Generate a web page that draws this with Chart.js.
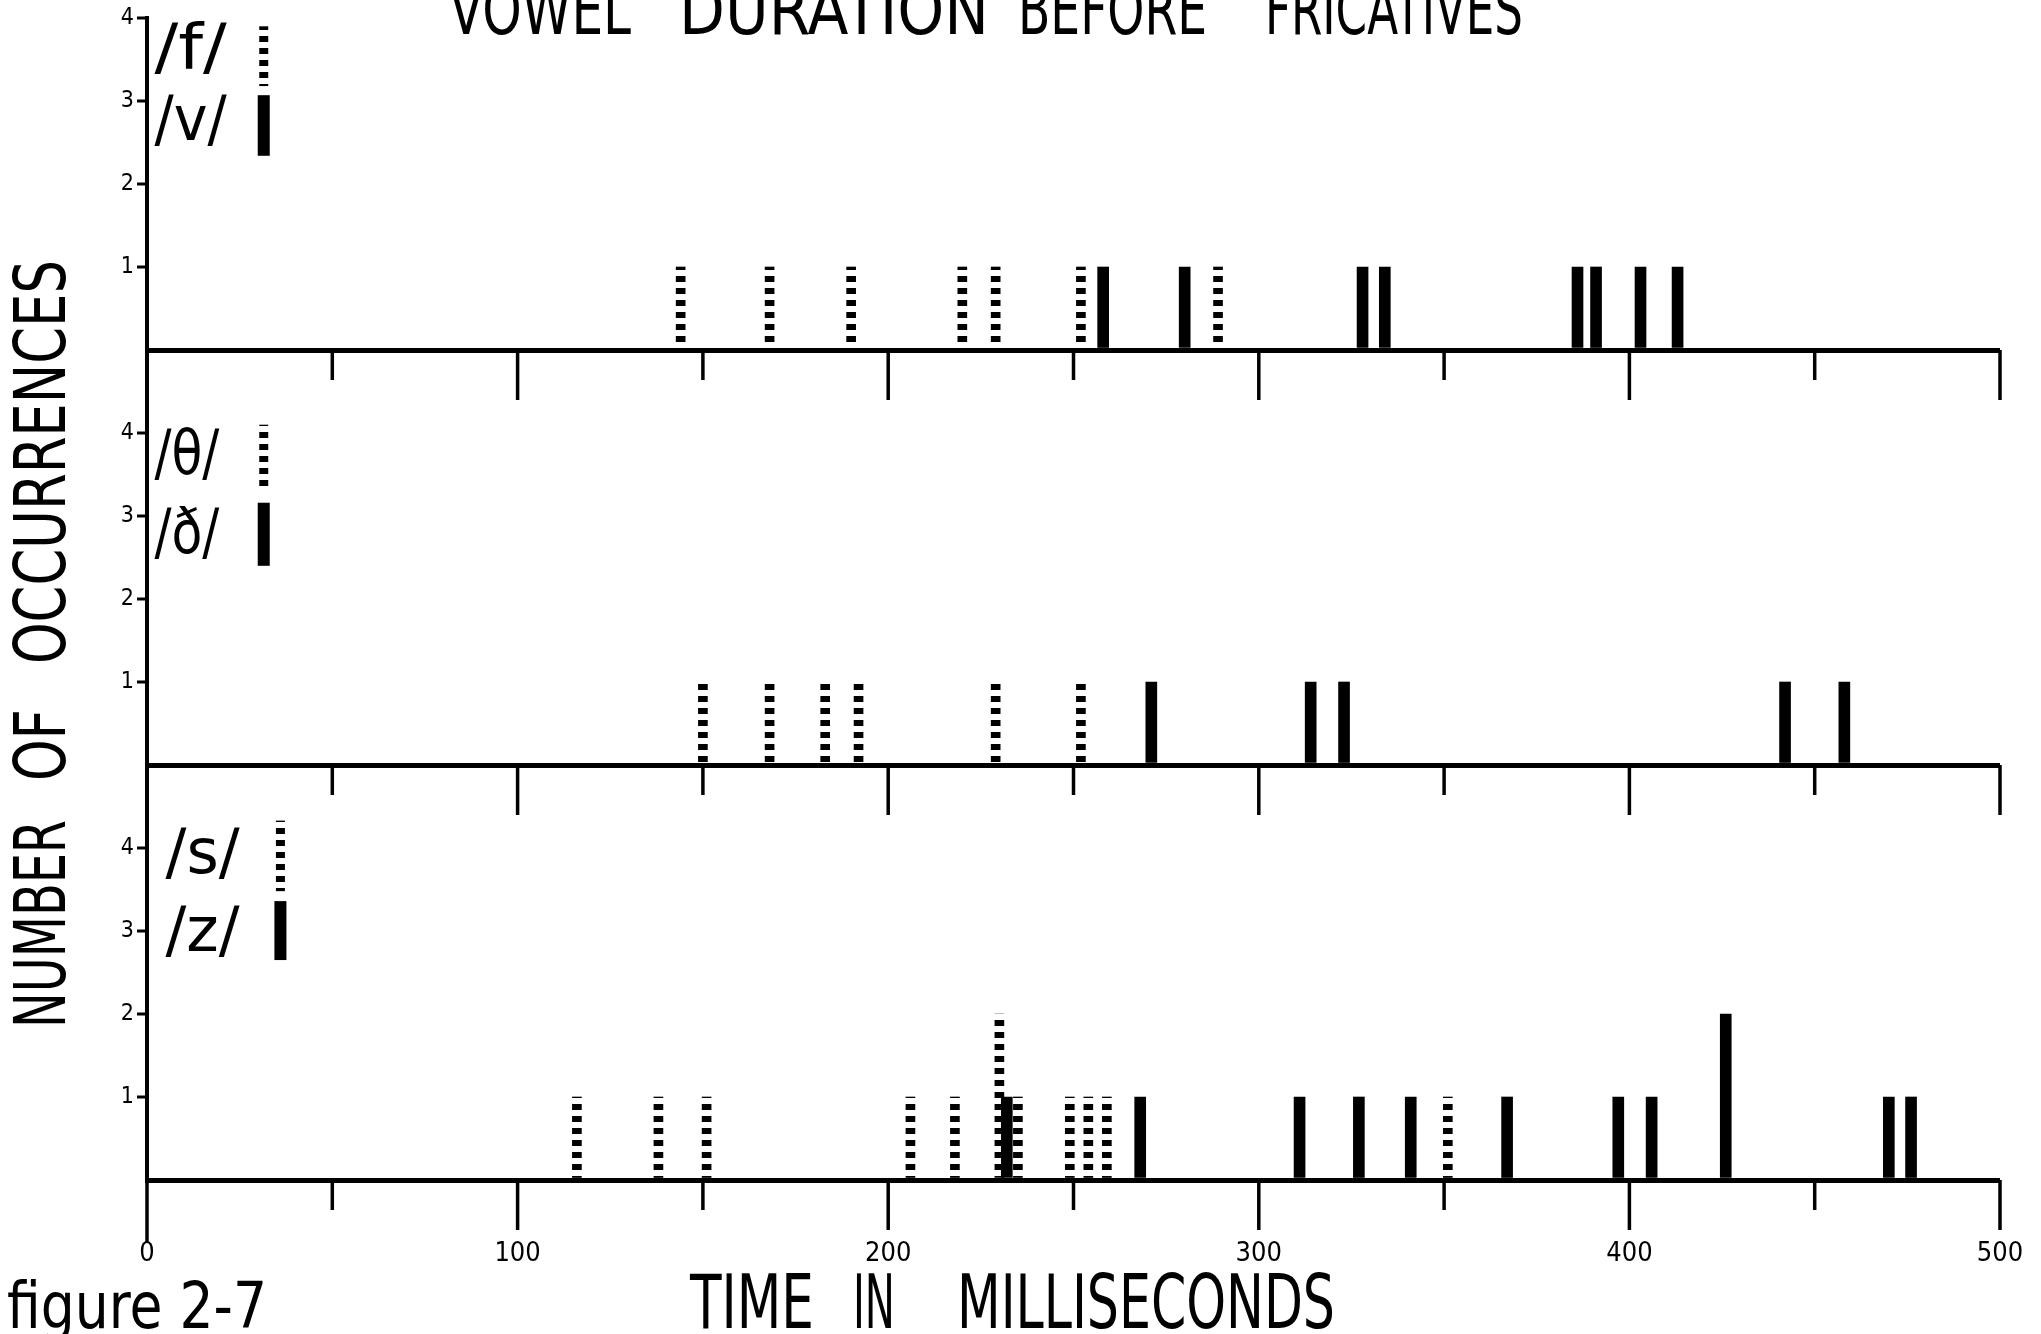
<!DOCTYPE html>
<html>
<head>
<meta charset="utf-8">
<title>Vowel duration before fricatives</title>
<script src="https://cdn.jsdelivr.net/npm/chart.js@4.4.1/dist/chart.umd.min.js"></script>
<style>
  html, body { margin: 0; padding: 0; background: #fff; overflow: hidden; }
  canvas { display: block; }
</style>
</head>
<body>
<canvas id="fig" width="2041" height="1334"></canvas>
<script>
// vowel durations (ms), with the number of tokens at each one
const fDurations = [144, 168, 190, 220, 229, 252, 289];
const fCounts = [1, 1, 1, 1, 1, 1, 1];
const vDurations = [258, 280, 328, 334, 386, 391, 403, 413];
const vCounts = [1, 1, 1, 1, 1, 1, 1, 1];

const thDurations = [150, 168, 183, 192, 229, 252];
const thCounts = [1, 1, 1, 1, 1, 1];
const dhDurations = [271, 314, 323, 442, 458];
const dhCounts = [1, 1, 1, 1, 1];

const sDurations = [116, 138, 151, 206, 218, 230, 235, 249, 254, 259, 351];
const sCounts = [1, 1, 1, 1, 1, 2, 1, 1, 1, 1, 1];
const zDurations = [232, 268, 311, 327, 341, 367, 397, 406, 426, 470, 476];
const zCounts = [1, 1, 1, 1, 1, 1, 1, 1, 2, 1, 1];

const timeTicks = [0, 100, 200, 300, 400, 500];
const countTicks = [1, 2, 3, 4];

const FONT = "'DejaVu Sans Condensed', 'Liberation Sans Narrow', 'DejaVu Sans', sans-serif";

const canvas = document.getElementById('fig');
const ctx = canvas.getContext('2d');

// dotted fill used for the voiceless bars
const tile = document.createElement('canvas');
tile.width = 1;
tile.height = 12;
const tctx = tile.getContext('2d');
tctx.fillStyle = '#000';
tctx.fillRect(0, 0, 1, 6);
const dots = ctx.createPattern(tile, 'repeat');

function pts(durations, counts) {
  return durations.map((d, i) => ({ x: d, y: counts[i] }));
}

function barSet(label, durations, counts, axis, dotted) {
  return {
    label: label,
    data: pts(durations, counts),
    xAxisID: 'x',
    yAxisID: axis,
    backgroundColor: dotted ? dots : '#000',
    borderWidth: 0,
    barThickness: dotted ? 9 : 11,
    grouped: false
  };
}

function countAxis(max, order) {
  return {
    type: 'linear',
    position: 'left',
    stack: 'panels',
    stackWeight: max,
    weight: order,
    min: 0,
    max: max,
    afterBuildTicks: s => { s.ticks = [0].concat(countTicks).map(v => ({ value: v })); },
    afterFit: s => { s.width = 147; },
    border: { display: true, color: '#000', width: 4 },
    grid: {
      drawOnChartArea: true,
      drawTicks: true,
      tickLength: 10,
      color: c => (c.tick && c.tick.value === 0 ? '#000' : 'rgba(0,0,0,0)'),
      lineWidth: c => (c.tick && c.tick.value === 0 ? 5 : 0),
      tickColor: c => (c.tick && c.tick.value === 0 ? 'rgba(0,0,0,0)' : '#000'),
      tickWidth: 3
    },
    ticks: {
      color: '#000',
      padding: 3,
      font: { family: FONT, size: 23 },
      callback: v => (v === 0 ? '' : v)
    }
  };
}

// squeeze a word into a given width, like the condensed lettering of the original
function fitText(c, text, x0, x1, y, size) {
  c.font = size + 'px ' + FONT;
  const w = c.measureText(text).width;
  c.save();
  c.translate(x0, y);
  c.scale((x1 - x0) / w, 1);
  c.textAlign = 'left';
  c.fillText(text, 0, 0);
  c.restore();
}

const keys = [
  { axis: 'y1', dotted: '/f/', solid: '/v/', tx0: 2, tx1: 21.5, sx: 31.5, dot: [3.18, 3.9], sol: [2.34, 3.07], dotY: 3.59, solY: 2.72 },
  { axis: 'y2', dotted: '/θ/', solid: '/ð/', tx0: 2, tx1: 19.5, sx: 31.5, dot: [3.31, 4.1], sol: [2.4, 3.16], dotY: 3.7, solY: 2.75 },
  { axis: 'y3', dotted: '/s/', solid: '/z/', tx0: 5, tx1: 25, sx: 36, dot: [3.48, 4.33], sol: [2.65, 3.36], dotY: 3.89, solY: 2.95 }
];

const decor = {
  id: 'decor',
  beforeDraw(chart) {
    const c = chart.ctx;
    c.save();
    c.fillStyle = '#fff';
    c.fillRect(0, 0, chart.width, chart.height);
    c.restore();
  },
  afterDraw(chart) {
    const c = chart.ctx;
    const xs = chart.scales.x;
    c.save();
    c.strokeStyle = '#000';
    c.fillStyle = '#000';

    // ticks hanging under each panel's time axis
    c.lineWidth = 3.5;
    ['y1', 'y2', 'y3'].forEach((id, p) => {
      const base = chart.scales[id].getPixelForValue(0);
      for (let v = 0; v <= 500; v += 50) {
        let len = v % 100 === 0 ? 50 : 30;
        if (v === 0) {
          if (p < 2) continue;
          len = 62;
        }
        const x = xs.getPixelForValue(v);
        c.beginPath();
        c.moveTo(x, base);
        c.lineTo(x, base + len);
        c.stroke();
      }
    });

    // key in the corner of each panel
    keys.forEach(k => {
      const ys = chart.scales[k.axis];
      const sx = xs.getPixelForValue(k.sx);
      c.fillStyle = dots;
      c.fillRect(sx - 4.5, ys.getPixelForValue(k.dot[1]), 9, ys.getPixelForValue(k.dot[0]) - ys.getPixelForValue(k.dot[1]));
      c.fillStyle = '#000';
      c.fillRect(sx - 6, ys.getPixelForValue(k.sol[1]), 12, ys.getPixelForValue(k.sol[0]) - ys.getPixelForValue(k.sol[1]));
      c.textBaseline = 'middle';
      const x0 = xs.getPixelForValue(k.tx0);
      const x1 = xs.getPixelForValue(k.tx1);
      fitText(c, k.dotted, x0, x1, ys.getPixelForValue(k.dotY), 62);
      fitText(c, k.solid, x0, x1, ys.getPixelForValue(k.solY), 62);
    });

    c.textBaseline = 'alphabetic';
    // title, clipped at the top edge as in the scan
    fitText(c, 'VOWEL', 449, 631, 34, 70);
    fitText(c, 'DURATION', 679, 989, 34, 70);
    fitText(c, 'BEFORE', 1018, 1207, 34, 70);
    fitText(c, 'FRICATIVES', 1265, 1523, 34, 70);

    // x title and figure number
    fitText(c, 'TIME', 690, 814, 1328, 75);
    fitText(c, 'IN', 853, 895, 1328, 75);
    fitText(c, 'MILLISECONDS', 957, 1335, 1328, 75);
    fitText(c, 'figure 2-7', 7, 267, 1328, 64);

    // y title, reading upwards
    [['NUMBER', 820, 1028], ['OF', 709, 781], ['OCCURRENCES', 260, 664]].forEach(w => {
      c.save();
      c.translate(65, w[2]);
      c.rotate(-Math.PI / 2);
      fitText(c, w[0], 0, w[2] - w[1], 0, 71);
      c.restore();
    });
    c.restore();
  }
};

new Chart(ctx, {
  type: 'bar',
  data: {
    datasets: [
      barSet('/v/', vDurations, vCounts, 'y1', false),
      barSet('/f/', fDurations, fCounts, 'y1', true),
      barSet('/ð/', dhDurations, dhCounts, 'y2', false),
      barSet('/θ/', thDurations, thCounts, 'y2', true),
      barSet('/z/', zDurations, zCounts, 'y3', false),
      barSet('/s/', sDurations, sCounts, 'y3', true)
    ]
  },
  options: {
    responsive: false,
    animation: false,
    devicePixelRatio: 1,
    layout: { padding: { top: 18, right: 41, bottom: 0, left: 0 } },
    plugins: {
      legend: { display: false },
      title: { display: false },
      tooltip: { enabled: false }
    },
    scales: {
      x: {
        type: 'linear',
        position: 'bottom',
        offset: false,
        min: 0,
        max: 500,
        afterBuildTicks: s => { s.ticks = timeTicks.map(v => ({ value: v })); },
        afterFit: s => { s.height = 154; },
        // invisible tick marks only push the labels down below the hanging ticks
        grid: {
          display: true,
          drawOnChartArea: false,
          drawTicks: true,
          tickLength: 55,
          offset: false,
          color: 'rgba(0,0,0,0)',
          tickColor: 'rgba(0,0,0,0)'
        },
        border: { display: false },
        ticks: {
          color: '#000',
          padding: 3,
          maxRotation: 0,
          autoSkip: false,
          font: { family: FONT, size: 27 }
        }
      },
      y1: countAxis(4, 3),
      y2: countAxis(5, 2),
      y3: countAxis(5, 1)
    }
  },
  plugins: [decor]
});
</script>
</body>
</html>
